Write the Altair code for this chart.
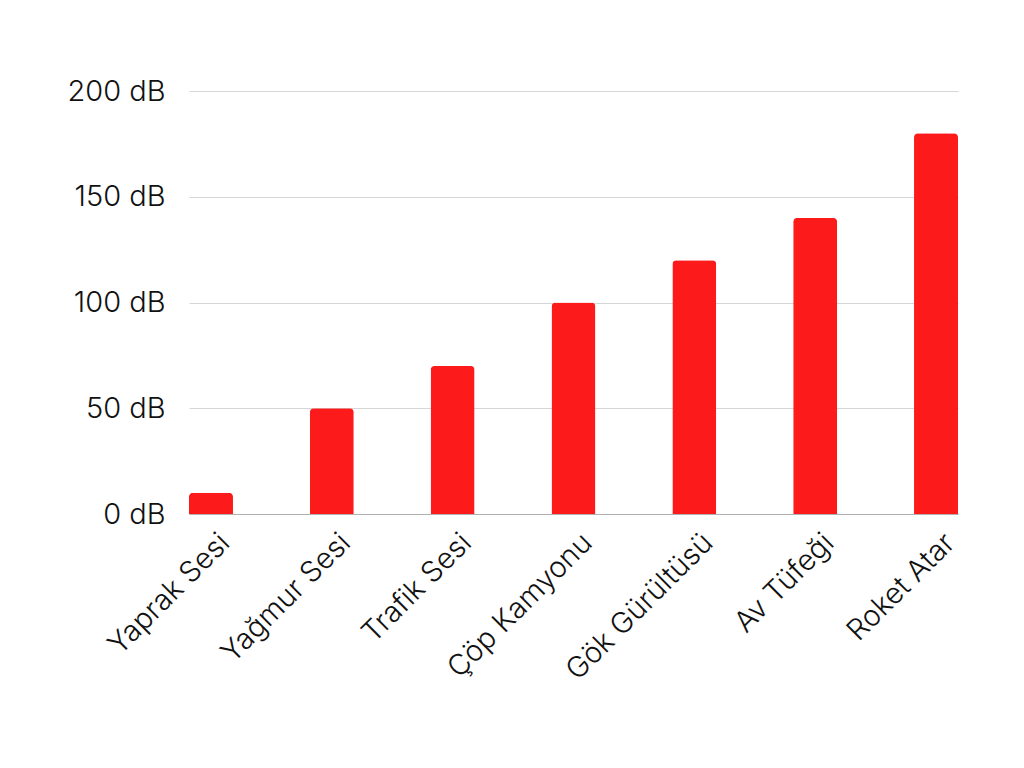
import altair as alt
import pandas as pd

categories = ["Yaprak Sesi", "Yağmur Sesi", "Trafik Sesi", "Çöp Kamyonu", "Gök Gürültüsü", "Av Tüfeği", "Roket Atar"]
values = [10, 50, 70, 100, 120, 140, 180]

df = pd.DataFrame({"cat": categories, "val": values})

FONT = "Inter"

chart = alt.Chart(df).mark_bar(
    color="#FD1A1A", cornerRadiusTopLeft=4, cornerRadiusTopRight=4
).encode(
    x=alt.X("cat:N", sort=categories, title=None,
            scale=alt.Scale(paddingInner=0.636, paddingOuter=0),
            axis=alt.Axis(labelAngle=-45, labelAlign="right", labelBaseline="top",
                          labelFontSize=29, labelFont=FONT, labelFontWeight=300,
                          labelColor="#111111", labelOffset=4, labelPadding=14,
                          labelLimit=0, ticks=False, domainColor="#b0b0b0", domainWidth=1.2,
                          grid=False)),
    y=alt.Y("val:Q", title=None,
            scale=alt.Scale(domain=[0, 200], nice=False),
            axis=alt.Axis(values=[0, 50, 100, 150, 200],
                          labelExpr="datum.value + ' dB'",
                          labelFontSize=29, labelFont=FONT, labelFontWeight=300,
                          labelColor="#111111", labelPadding=24,
                          ticks=False, domain=False,
                          grid=True, gridColor="#d6d6d6", gridWidth=1)),
).properties(
    width=769, height=423,
    autosize=alt.AutoSizeParams(type="none"),
    padding={"left": 189, "top": 91, "right": 66, "bottom": 254},
    background="white",
).configure_view(stroke=None)

chart.save("out.html", embed_options={"renderer": "svg", "actions": False})
